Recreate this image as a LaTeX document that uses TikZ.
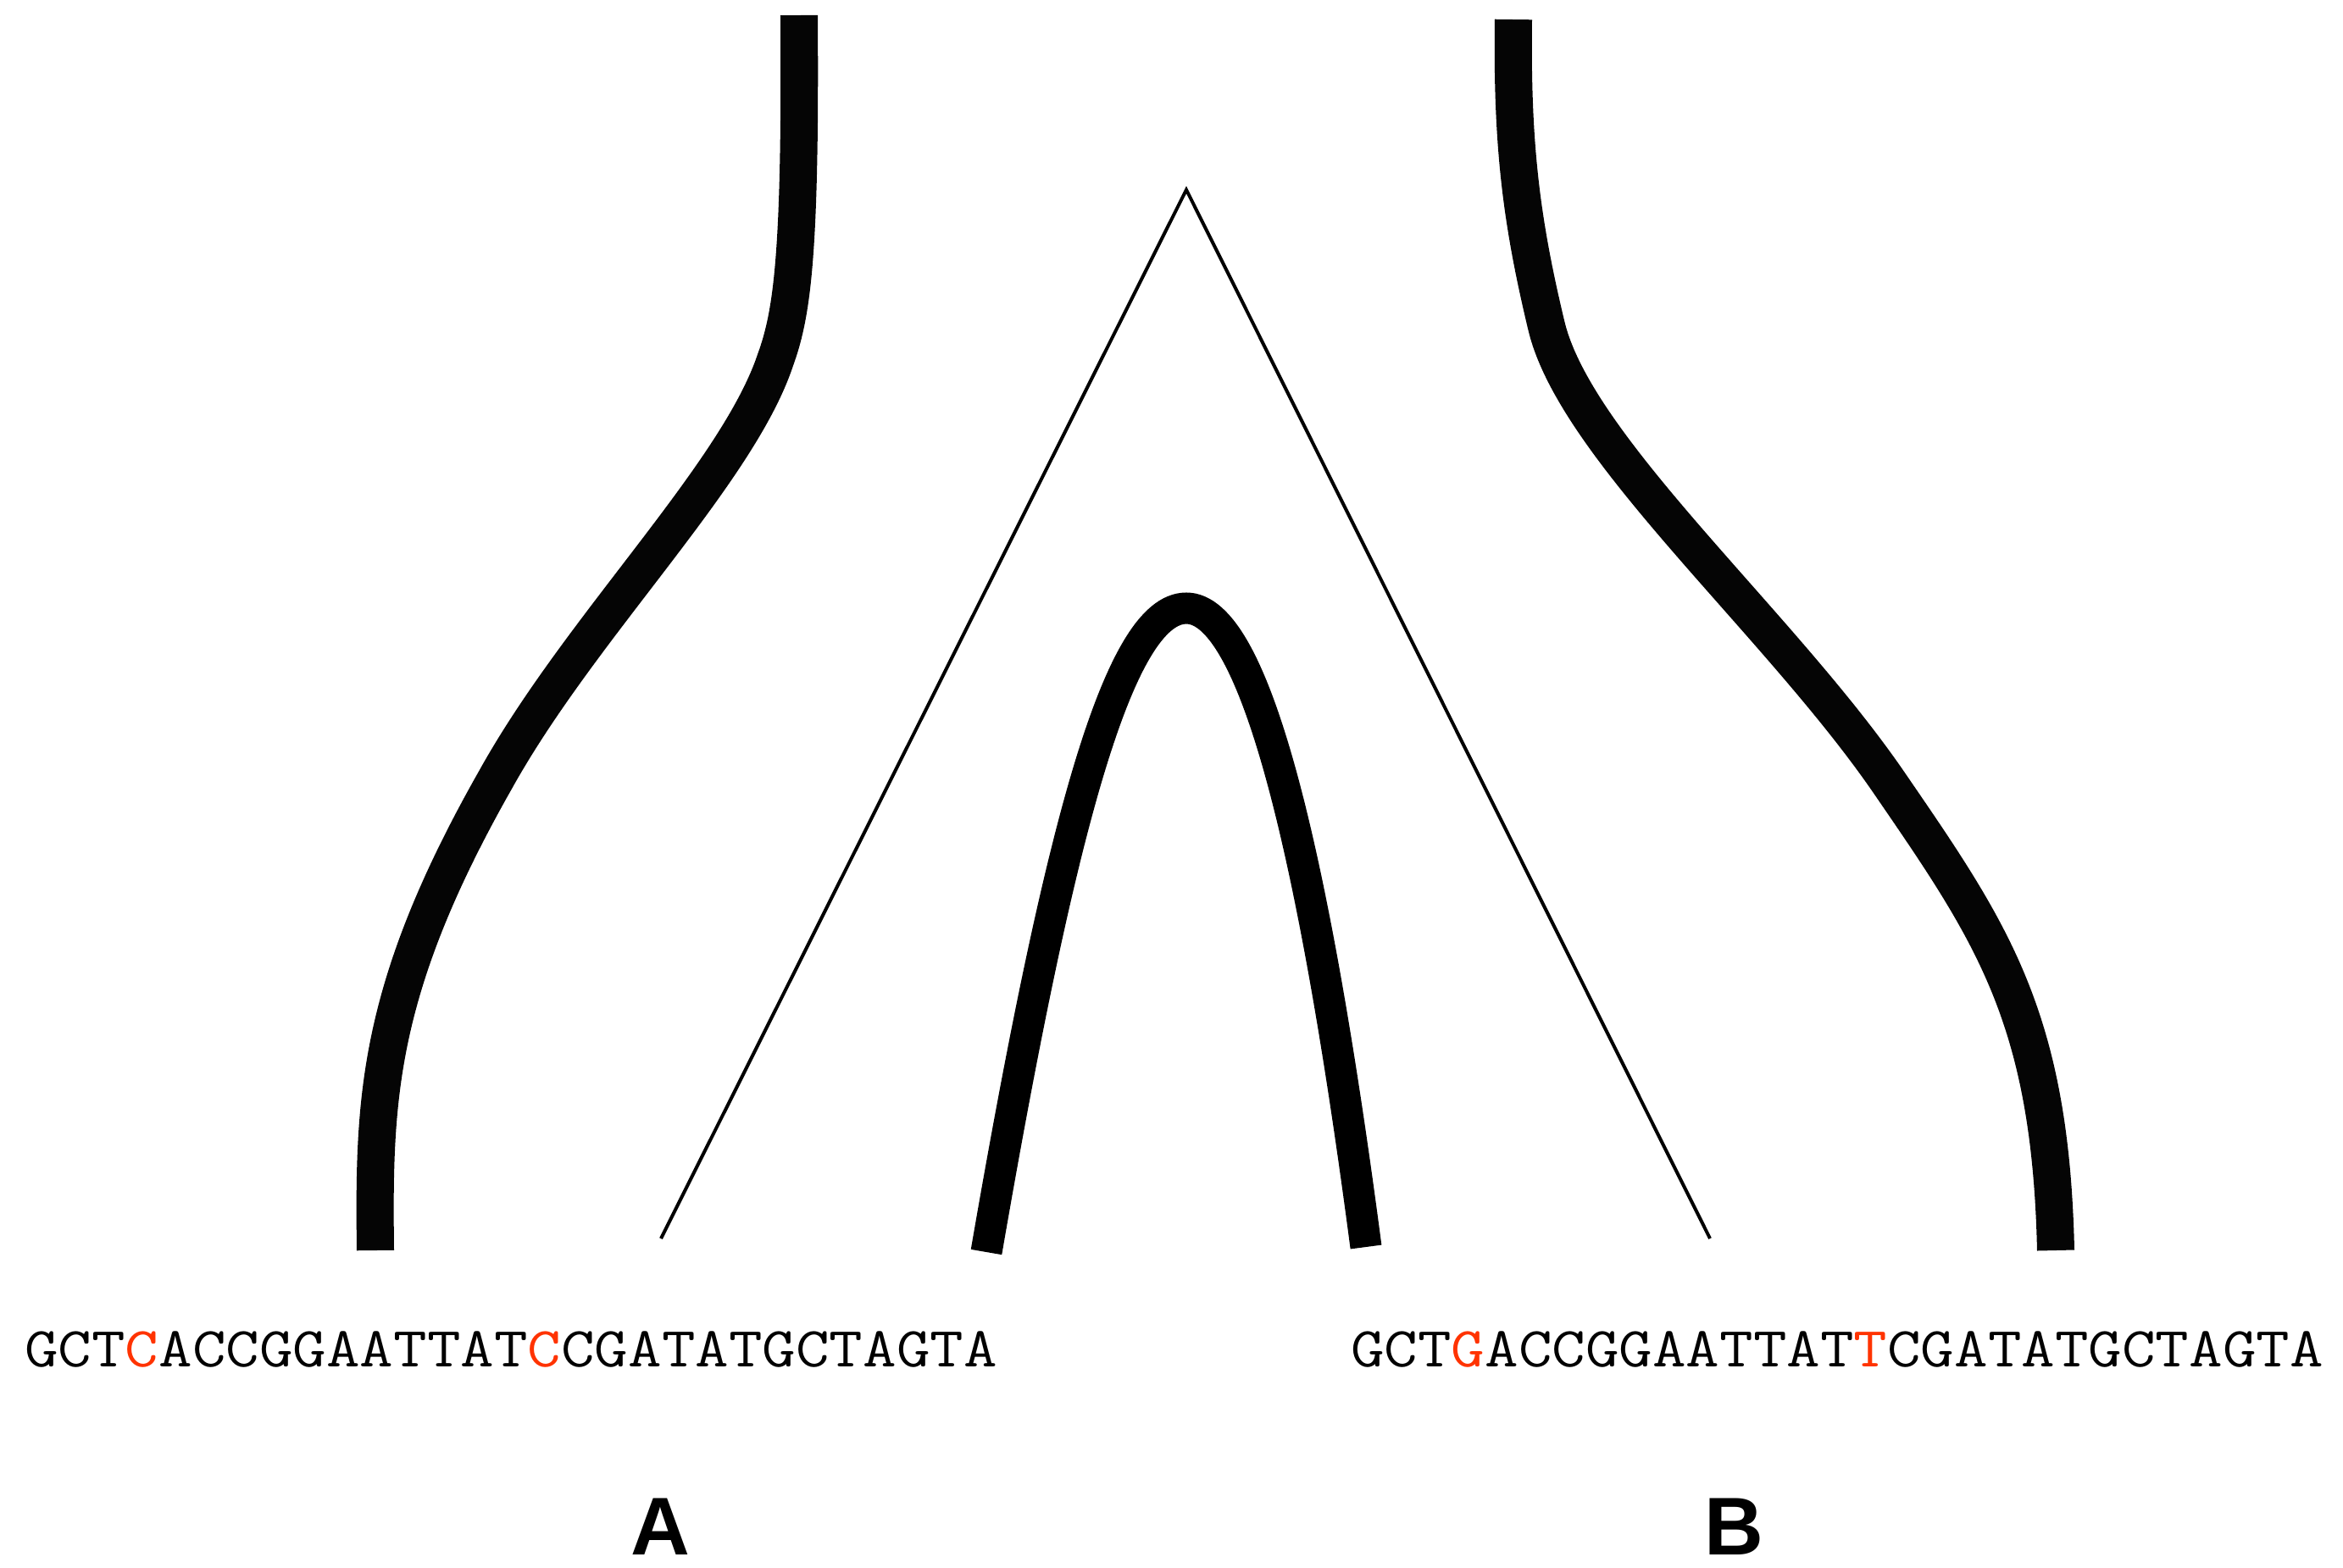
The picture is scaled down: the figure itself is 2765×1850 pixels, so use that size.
\documentclass[tikz,border=0pt]{standalone}
\usepackage{fontspec}
\usepackage{graphicx}
\newfontfamily\labelfont{Liberation Sans}
\definecolor{mut}{RGB}{255,51,0}
\definecolor{ink}{RGB}{5,5,5}
\begin{document}
\begin{tikzpicture}[x=0.01cm,y=-0.01cm,
  strand/.style={draw=ink,line width=0.44cm,line cap=butt},
  archstrand/.style={draw=black,line width=0.37cm,line cap=butt},
  treeline/.style={draw=black,line width=0.04cm,line join=miter},
  seq/.style={inner sep=0pt,anchor=base,font=\ttfamily\fontsize{19pt}{19pt}\selectfont},
  lab/.style={inner sep=0pt,anchor=base,font=\labelfont\bfseries\fontsize{27.5pt}{27.5pt}\selectfont}]
\useasboundingbox (0,0) rectangle (2765,1850);

% left lineage strand
\draw[strand] (943,18) .. controls (945,300) and (935,370) .. (915,425)
  .. controls (870,560) and (685,740) .. (585,920)
  .. controls (443,1170) and (441,1300) .. (443,1476);

% right lineage strand
\draw[strand] (1786,23) .. controls (1784,170) and (1795,260) .. (1825,385)
  .. controls (1860,530) and (2100,735) .. (2230,925)
  .. controls (2350,1100) and (2420,1200) .. (2426,1476);

% middle arch
\draw[archstrand] (1164,1478) .. controls (1250,980) and (1320,718) .. (1400,718)
  .. controls (1480,718) and (1550,1000) .. (1612,1472);

% thin tree
\coordinate (root) at (1400,224);
\coordinate (leafA) at (780,1462);
\coordinate (leafB) at (2018,1462);
\draw[treeline] (leafA) -- (root) -- (leafB);

% sequences
\node[seq] (seqA) at (603,1613) {\scalebox{1.15}[1]{GCT\textcolor{mut}{C}ACCGGAATTAT\textcolor{mut}{C}CGATATGCTAGTA}};
\node[seq] (seqB) at (2168,1613) {\scalebox{1.15}[1]{GCT\textcolor{mut}{G}ACCGGAATTAT\textcolor{mut}{T}CGATATGCTAGTA}};

% labels
\node[lab] (labA) at (779,1835) {A};
\node[lab] (labB) at (2046,1835) {B};
\end{tikzpicture}
\end{document}
